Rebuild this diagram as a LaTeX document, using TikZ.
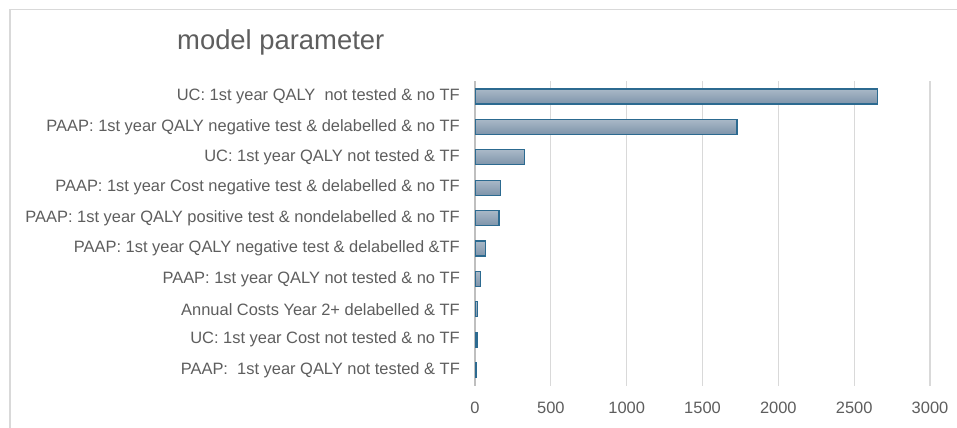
\documentclass[tikz,border=0pt]{standalone}
\usepackage{fontspec}
\setmainfont{Liberation Sans}
\definecolor{txtgray}{HTML}{5E5E5E}
\definecolor{gridgray}{HTML}{D9D9D9}
\definecolor{framegray}{HTML}{D9D9D9}
\definecolor{axisgray}{HTML}{BFBFBF}
\definecolor{barline}{HTML}{2C6A90}
\definecolor{bartop}{HTML}{A9B8C7}
\definecolor{barbot}{HTML}{7E94AA}
\tikzset{
  catlabel/.style={anchor=east, text=txtgray, font=\fontsize{16.5}{19}\selectfont, inner sep=0pt},
  ticklabel/.style={anchor=center, text=txtgray, font=\fontsize{16.5}{19}\selectfont, inner sep=0pt},
  gridline/.style={draw=gridgray, line width=1.2bp},
  barbox/.style={draw=barline, line width=1.3bp, top color=bartop, bottom color=barbot},
}
\begin{document}
\begin{tikzpicture}[x=1bp, y=-1bp]
  \useasboundingbox (0,0) rectangle (957,427);
  \fill[white] (0,0) rectangle (957,427);
  % chart frame
  \draw[framegray, line width=1.3bp] (10,430) -- (10,9.5) -- (960,9.5);
  % title
  \node[anchor=west, text=txtgray, font=\fontsize{27.5}{32}\selectfont, inner sep=0pt] (title) at (177,42) {model parameter};
  % vertical grid and tick labels
  \foreach \v [count=\i from 0] in {0,500,1000,1500,2000,2500,3000} {
    \pgfmathsetmacro{\gx}{475+\v*0.15167}
    \coordinate (gtop\i) at (\gx,81);
    \coordinate (gbot\i) at (\gx,386);
    \ifnum\i>0 \draw[gridline] (gtop\i) -- (gbot\i); \fi
    \node[ticklabel] (tick\i) at (\gx,408) {\v};
  }
  \draw[axisgray, line width=1.2bp] (gtop0) -- (gbot0);
  % bars, top to bottom
  \foreach \val/\lab [count=\r from 0] in {
    2655/{UC: 1st year QALY\ \ not tested \& no TF},
    1727/{PAAP: 1st year QALY negative test \& delabelled \& no TF},
    327/{UC: 1st year QALY not tested \& TF},
    169/{PAAP: 1st year Cost negative test \& delabelled \& no TF},
    158/{PAAP: 1st year QALY positive test \& nondelabelled \& no TF},
    68/{PAAP: 1st year QALY negative test \& delabelled \&TF},
    37/{PAAP: 1st year QALY not tested \& no TF},
    18/{Annual Costs Year 2+ delabelled \& TF},
    13/{UC: 1st year Cost not tested \& no TF},
    11/{PAAP:\ \ 1st year QALY not tested \& TF}} {
    \pgfmathsetmacro{\cy}{96.5+\r*30.4}
    \pgfmathsetmacro{\bx}{475+\val*0.15167}
    \draw[barbox] (475.6,\cy-7.5) rectangle (\bx,\cy+7.5);
    \node[catlabel] (cat\r) at (460,\cy) {\lab};
  }
\end{tikzpicture}
\end{document}
